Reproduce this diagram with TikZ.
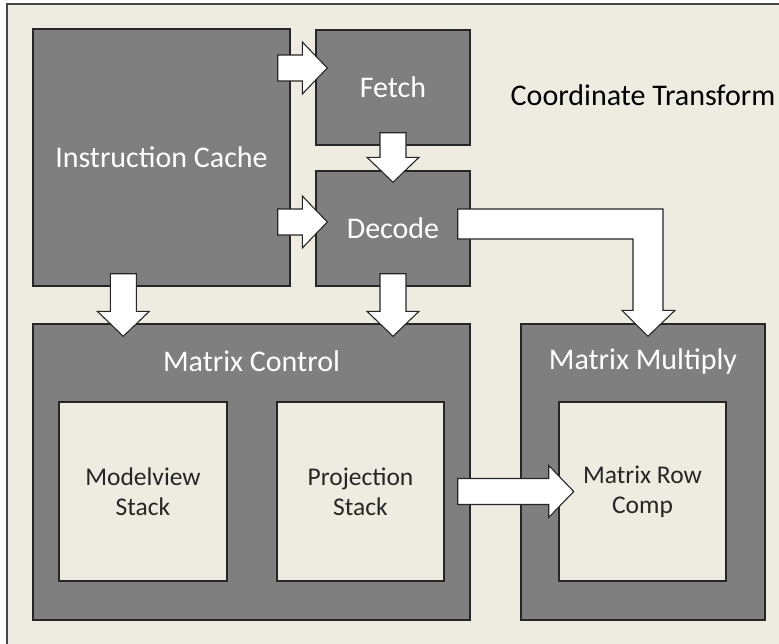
\documentclass[tikz,border=0pt]{standalone}
\usepackage{fontspec}
\setmainfont{Carlito}
\usetikzlibrary{calc}

\definecolor{tanbg}{HTML}{EEECE1}
\definecolor{boxgray}{HTML}{7F7F7F}
\definecolor{edgegray}{HTML}{262626}

\tikzset{
  unit/.style={draw=edgegray, line width=1.4pt, fill=boxgray, inner sep=0pt,
    text=white, font=\fontsize{30}{36}\selectfont},
  unitname/.style={text=white, font=\fontsize{30}{36}\selectfont},
  subunit/.style={draw=edgegray, line width=1.4pt, fill=tanbg, inner sep=0pt,
    text=edgegray, align=center, font=\fontsize{25.5}{30}\selectfont},
  blockarrow/.style={draw=edgegray, line width=1.1pt, fill=white, line join=miter}
}

% block arrow pointing right: start, tip (same y)
\newcommand{\rightblock}[2]{%
  \draw[blockarrow] ($(#1)+(0,-13)$) -- ($(#2)+(-25,-13)$) -- ($(#2)+(-25,-26)$) -- (#2)
    -- ($(#2)+(-25,26)$) -- ($(#2)+(-25,13)$) -- ($(#1)+(0,13)$) -- cycle;}
% block arrow pointing down: start, tip (same x)
\newcommand{\downblock}[2]{%
  \draw[blockarrow] ($(#1)+(-13,0)$) -- ($(#2)+(-13,-25)$) -- ($(#2)+(-26,-25)$) -- (#2)
    -- ($(#2)+(26,-25)$) -- ($(#2)+(13,-25)$) -- ($(#1)+(13,0)$) -- cycle;}

\begin{document}
\begin{tikzpicture}[x=1pt, y=-1pt]
  \useasboundingbox (0,0) rectangle (779,643);
  \clip (0,0) rectangle (779,643);
  \draw[line width=1.4pt, draw=edgegray!85, fill=tanbg] (7,4) rectangle (800,700);

  \node[text=black, font=\fontsize{30}{36}\selectfont] (title) at (643,95) {Coordinate Transform};

  % upper units
  \node[unit, minimum width=257pt, minimum height=257pt] (ic) at (161.5,157.5) {Instruction Cache};
  \node[unit, minimum width=154pt, minimum height=115pt] (fetch) at (393,87.5) {Fetch};
  \node[unit, minimum width=154pt, minimum height=115pt] (decode) at (393,228.5) {Decode};

  % lower units
  \node[unit, minimum width=437pt, minimum height=296pt] (ctrl) at (251.5,472) {};
  \node[unitname] (ctrlname) at ($(ctrl.north)+(0,38)$) {Matrix Control};
  \node[unit, minimum width=244pt, minimum height=296pt] (mult) at (643,472) {};
  \node[unitname] (multname) at ($(mult.north)+(0,38)$) {Matrix Multiply};

  \node[subunit, minimum width=168pt, minimum height=179pt] (mview) at (143,491.5) {Modelview\\Stack};
  \node[subunit, minimum width=167pt, minimum height=179pt] (proj) at (360.5,491.5) {Projection\\Stack};
  \node[subunit, minimum width=167pt, minimum height=179pt] (rowc) at (642.5,491.5) {Matrix Row\\Comp};

  % arrows
  \coordinate (t1) at ($(fetch.west)+(12,-19.5)$);
  \path (ic.east |- t1) ++(-13,0) coordinate (s1);
  \rightblock{s1}{t1}
  \coordinate (t2) at ($(decode.west)+(12,-6.5)$);
  \path (ic.east |- t2) ++(-13,0) coordinate (s2);
  \rightblock{s2}{t2}
  \coordinate (t3) at ($(decode.north)+(0,12)$);
  \path (fetch.south) ++(0,-13) coordinate (s3);
  \downblock{s3}{t3}
  \coordinate (t4) at ($(ctrl.north west)+(91,13)$);
  \path (t4 |- ic.south) ++(0,-13) coordinate (s4);
  \downblock{s4}{t4}
  \coordinate (t5) at ($(ctrl.north -| decode.south)+(0,13)$);
  \path (decode.south) ++(0,-13) coordinate (s5);
  \downblock{s5}{t5}
  \coordinate (t6) at ($(proj.east)+(129,0)$);
  \path (proj.east) ++(13,0) coordinate (s6);
  \rightblock{s6}{t6}

  % decode to matrix multiply
  \coordinate (t7) at ($(mult.north)+(5,13)$);
  \path (decode.east) ++(-13,-4.5) coordinate (s7);
  \draw[blockarrow] ($(s7)+(0,-15)$) -| ($(t7)+(15,-26)$) -- ($(t7)+(27,-26)$) -- (t7)
    -- ($(t7)+(-26,-26)$) -- ($(t7)+(-15,-26)$) |- ($(s7)+(0,15)$) -- cycle;
\end{tikzpicture}
\end{document}
